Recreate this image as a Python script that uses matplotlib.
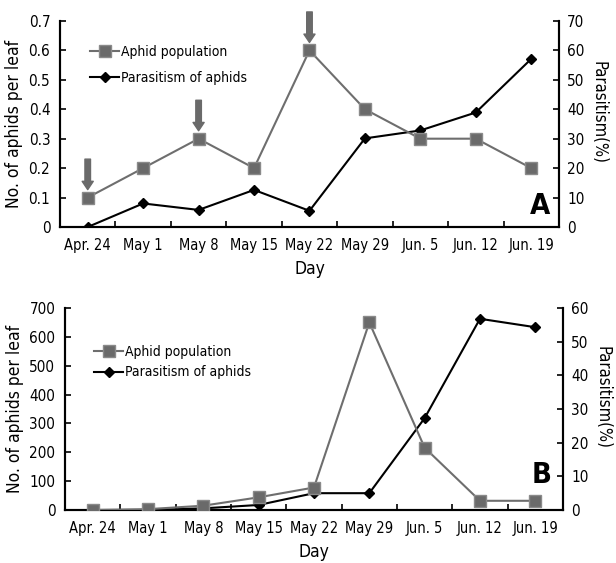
import matplotlib
matplotlib.use("Agg")
import matplotlib.pyplot as plt
import numpy as np

days = ["Apr. 24", "May 1", "May 8", "May 15", "May 22", "May 29", "Jun. 5", "Jun. 12", "Jun. 19"]

# Panel A
aphid_A = [0.1, 0.2, 0.3, 0.2, 0.6, 0.4, 0.3, 0.3, 0.2]
parasit_A = [0.0, 8.0, 5.8, 12.6, 5.5, 30.1, 32.8, 38.9, 57.1]
arrow_days_A = [0, 2, 4]

# Panel B
aphid_B = [0, 3, 15, 44, 78, 650, 216, 32, 32]
parasit_B = [0.0, 0.0, 0.5, 1.5, 5.0, 5.0, 27.3, 56.8, 54.3]

plt.rcParams['font.family'] = ['DejaVu Sans']
plt.rcParams['font.stretch'] = 'condensed'
FS_TICK = 10.5

fig = plt.figure(figsize=(6.16, 5.63), dpi=100)

def make_panel(rect, aphid, parasit, ylim_l, yticks_l, yticklabels_l, ylim_r, yticks_r,
               letter, letter_xy, leg_anchor, leg_space, rlabel_xy, arrows=None):
    ax = fig.add_axes(rect)
    x = np.arange(len(days))
    ax.plot(x, aphid, color='#6e6e6e', lw=1.5, marker='s', ms=9,
            mfc='#6a6a6a', mec='#8a8a8a', mew=1.0, label='Aphid population', zorder=3)
    ax2 = ax.twinx()
    ax2.plot(x, parasit, color='black', lw=1.5, marker='D', ms=5.5,
             mfc='black', mec='black', label='Parasitism of aphids', zorder=3)
    ax.set_xlim(-0.5, len(days) - 0.5)
    ax.set_ylim(*ylim_l)
    ax2.set_ylim(*ylim_r)
    ax.set_yticks(yticks_l)
    ax.set_yticklabels(yticklabels_l, fontsize=FS_TICK + 0.5)
    ax2.set_yticks(yticks_r)
    ax2.set_yticklabels([str(v) for v in yticks_r], fontsize=FS_TICK + 0.5)
    ax.set_xticks(x)
    ax.set_xticklabels(days, fontsize=FS_TICK)
    ax.set_xticks(np.arange(0.5, len(days) - 1, 1.0), minor=True)
    ax.tick_params(axis='x', which='major', length=0, pad=8)
    ax.tick_params(axis='x', which='minor', direction='in', length=4, width=1.2)
    ax.tick_params(axis='y', direction='in', length=4, width=1.2, pad=7)
    ax2.tick_params(axis='y', direction='in', length=4, width=1.2, pad=6)
    for a in (ax, ax2):
        a.spines['top'].set_visible(False)
        for s in ('left', 'right', 'bottom'):
            a.spines[s].set_linewidth(1.5)
    ax.set_ylabel('No. of aphids per leaf', fontsize=12.5, labelpad=4)
    ax2.set_ylabel('Parasitism(%)', fontsize=12, rotation=-90, va='center')
    ax2.yaxis.set_label_coords(*rlabel_xy)
    ax.set_xlabel('Day', fontsize=12.5, labelpad=5)
    ax.text(letter_xy[0], letter_xy[1], letter, transform=ax.transAxes,
            fontsize=21, fontweight='bold', ha='center', va='center')
    h1, l1 = ax.get_legend_handles_labels()
    h2, l2 = ax2.get_legend_handles_labels()
    ax.legend(h1 + h2, l1 + l2, loc='upper left', bbox_to_anchor=leg_anchor,
              frameon=False, fontsize=10, handlelength=2.1, handletextpad=0.15,
              labelspacing=leg_space)
    if arrows:
        span = ylim_l[1] - ylim_l[0]
        for i in arrows:
            ax.annotate('', xy=(i, aphid[i] + 0.025 * span), xytext=(i, aphid[i] + 0.2 * span),
                        arrowprops=dict(arrowstyle='simple,head_width=0.8,head_length=0.6,tail_width=0.4',
                                        fc='#6a6a6a', ec='#6a6a6a'),
                        annotation_clip=False, zorder=5)
    ax.set_zorder(ax2.get_zorder() + 1)
    ax.patch.set_visible(False)
    return ax, ax2

make_panel([0.0974, 0.5968, 0.81, 0.366], aphid_A, parasit_A,
           (0, 0.7), [0, 0.1, 0.2, 0.3, 0.4, 0.5, 0.6, 0.7],
           ['0', '0.1', '0.2', '0.3', '0.4', '0.5', '0.6', '0.7'],
           (0, 70), [0, 10, 20, 30, 40, 50, 60, 70], 'A', (0.962, 0.102),
           (0.035, 0.945), 0.85, (1.08, 0.558), arrows=arrow_days_A)

make_panel([0.1055, 0.0941, 0.8084, 0.3588], aphid_B, parasit_B,
           (0, 700), [0, 100, 200, 300, 400, 500, 600, 700],
           ['0', '100', '200', '300', '400', '500', '600', '700'],
           (0, 60), [0, 10, 20, 30, 40, 50, 60], 'B', (0.958, 0.173),
           (0.033, 0.878), 0.45, (1.08, 0.559))

fig.savefig('out.png', dpi=100)
